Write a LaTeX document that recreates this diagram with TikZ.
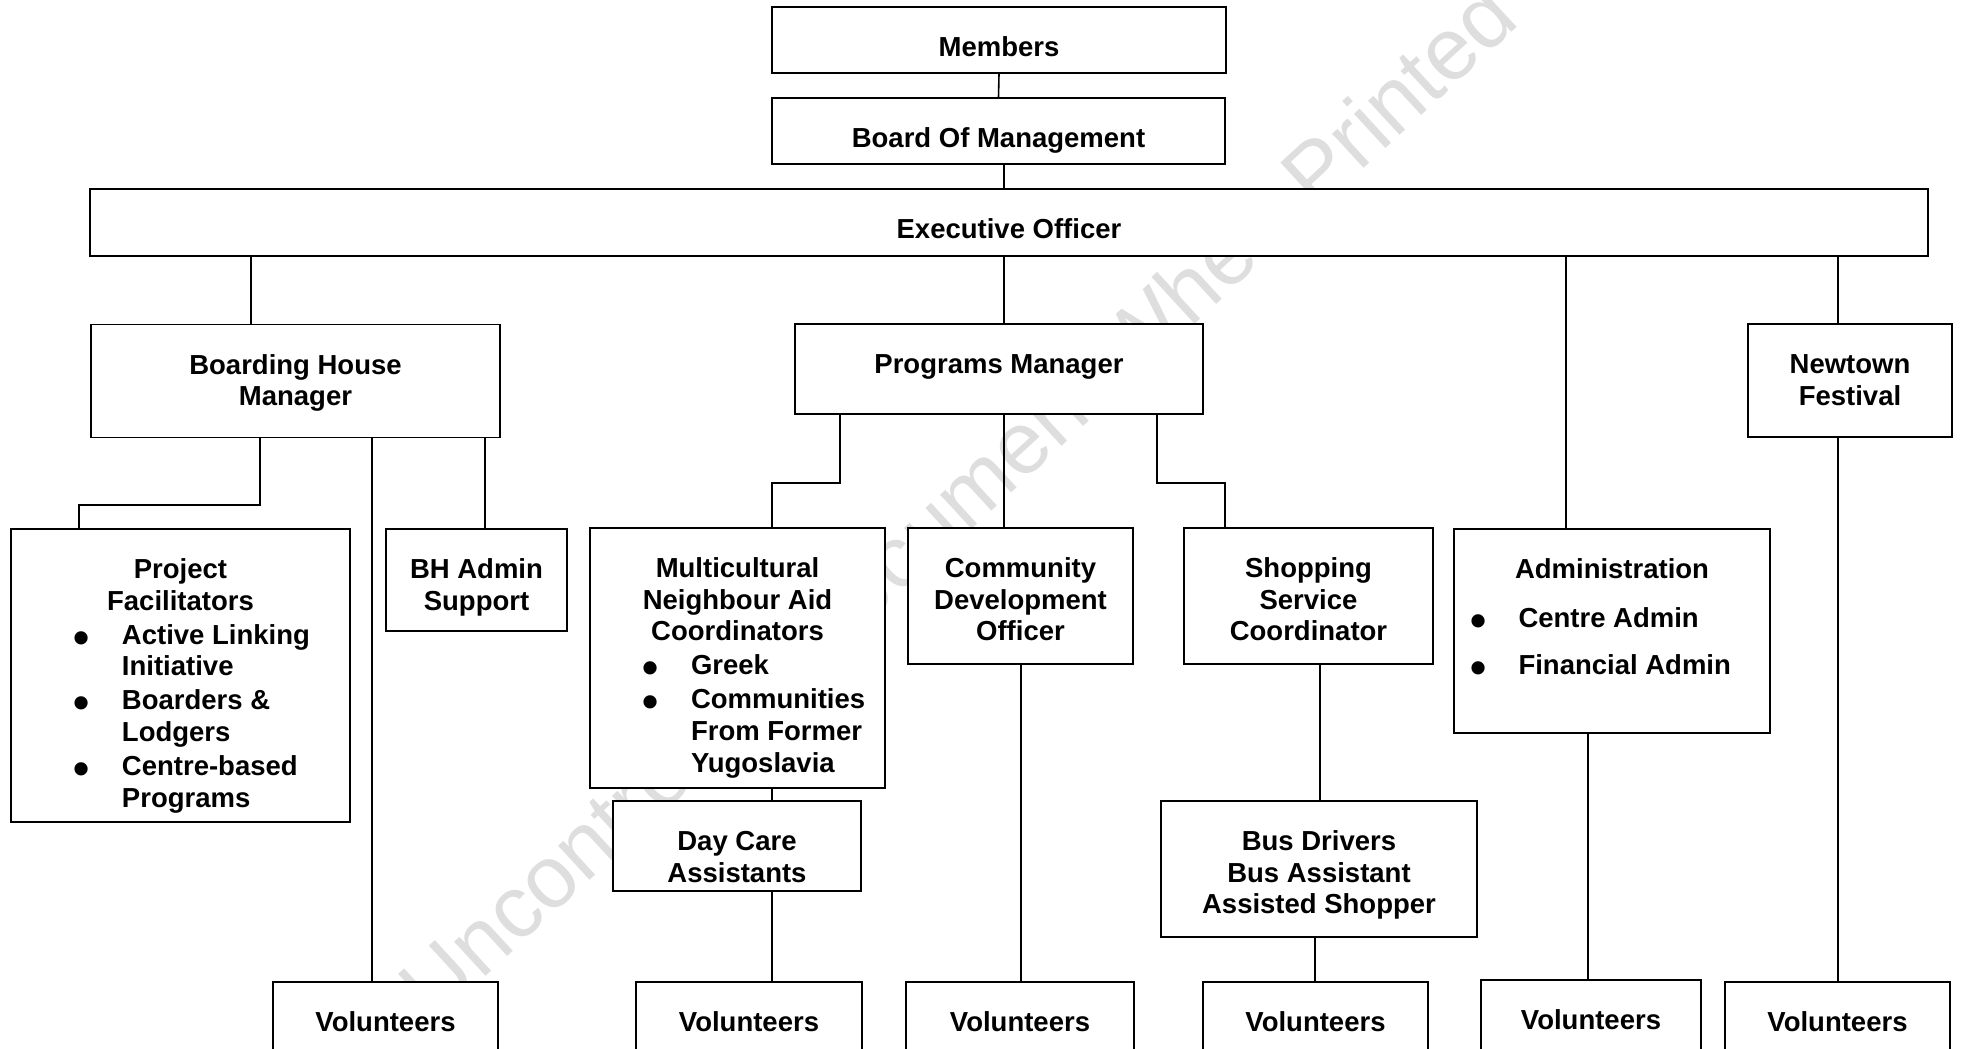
\documentclass[tikz,border=0pt]{standalone}
\usepackage{fontspec}
\setmainfont{Liberation Sans}

% box text: width, height, content (first baseline fixed from the top)
\newcommand{\boxtxt}[3]{\parbox[c][#2pt][t]{#1pt}{\centering\rule{0pt}{49.5pt}#3}}
% bullet line: [gap]{indent}{text}
\newcommand{\bitem}[3][2.5pt]{\par\vspace{#1}\raggedright\leftskip=#2pt\relax
  \leavevmode\llap{\makebox[80pt]{\raisebox{-9pt}{\fontsize{46}{0}\selectfont\textbullet}}}#3\par}

\begin{document}
\begin{tikzpicture}[x=1pt,y=-1pt,
  unit/.style={draw,fill=white,line width=1.8pt,inner sep=0pt,
    font=\bfseries\fontsize{27.5}{31.6}\selectfont},
  link/.style={line width=1.6pt}]
\path[use as bounding box,clip] (0,0) rectangle (1963,1049);

\node[rotate=42.6,text=black!13,font=\fontsize{88}{100}\selectfont] (mark) at (957,500) {Uncontrolled Document When Printed};

% top of the chart
\node[unit] (mem) at (999,40) {\boxtxt{454}{66}{Members}};
\node[unit] (bom) at (998.5,131) {\boxtxt{453}{66}{Board Of Management}};
\node[unit] (eo) at (1009,222.5) {\boxtxt{1838}{67}{Executive Officer}};

% managers
\node[unit] (bhm) at (295.5,381) {\boxtxt{409}{113}{Boarding House\\Manager}};
\node[unit] (pm) at (999,369) {\boxtxt{408}{90}{Programs Manager}};
\node[unit] (nf) at (1850,380.5) {\boxtxt{204}{113}{Newtown\\Festival}};

% staff
\node[unit] (pf) at (180.5,675.5) {\boxtxt{339}{293}{Project\\Facilitators
  \bitem{111}{Active Linking\\Initiative}
  \bitem{111}{Boarders \&\\Lodgers}
  \bitem{111}{Centre-based\\Programs}}};
\node[unit] (bha) at (476.5,580) {\boxtxt{181}{102}{BH Admin\\Support}};
\node[unit] (mna) at (737.5,658) {\boxtxt{295}{260}{Multicultural\\Neighbour Aid\\Coordinators
  \bitem{101}{Greek}
  \bitem{101}{Communities\\From Former\\Yugoslavia}}};
\node[unit] (cdo) at (1020.5,596) {\boxtxt{225}{136}{Community\\Development\\Officer}};
\node[unit] (ssc) at (1308.5,596) {\boxtxt{249}{136}{Shopping\\Service\\Coordinator}};
\node[unit] (adm) at (1612,631) {\boxtxt{316}{204}{Administration
  \bitem[17pt]{64.5}{Centre Admin}
  \bitem[16pt]{64.5}{Financial Admin}}};
\node[unit] (dca) at (737,846) {\boxtxt{248}{90}{Day Care\\Assistants}};
\node[unit] (bus) at (1319,869) {\boxtxt{316}{136}{Bus Drivers\\Bus Assistant\\Assisted Shopper}};

% volunteers along the bottom
\node[unit] (vbh) at (385.5,1042) {\boxtxt{225}{120}{Volunteers}};
\node[unit] (vdc) at (749,1042) {\boxtxt{226}{120}{Volunteers}};
\node[unit] (vcd) at (1020,1042) {\boxtxt{228}{120}{Volunteers}};
\node[unit] (vss) at (1315.5,1042) {\boxtxt{225}{120}{Volunteers}};
\node[unit] (vad) at (1591,1040) {\boxtxt{220}{120}{Volunteers}};
\node[unit] (vnf) at (1837.5,1042) {\boxtxt{225}{120}{Volunteers}};

\draw[link] (mem.south) -- (bom.north);
\draw[link] (bom.south -| 1004,0) -- (eo.north -| 1004,0);

\draw[link] (eo.south -| 251,0) -- (bhm.north -| 251,0);
\draw[link] (eo.south -| 1004,0) -- (pm.north -| 1004,0);
\draw[link] (eo.south -| 1566,0) -- (adm.north -| 1566,0);
\draw[link] (eo.south -| 1838,0) -- (nf.north -| 1838,0);

\draw[link] (bhm.south -| 260,0) |- (79,505) -- (pf.north -| 79,0);
\draw[link] (bhm.south -| 372,0) -- (vbh.north -| 372,0);
\draw[link] (bhm.south -| 485,0) -- (bha.north -| 485,0);

\draw[link] (pm.south -| 840,0) |- (772,483) -- (mna.north -| 772,0);
\draw[link] (pm.south -| 1004,0) -- (cdo.north -| 1004,0);
\draw[link] (pm.south -| 1157,0) |- (1225,483) -- (ssc.north -| 1225,0);

\draw[link] (mna.south -| 772,0) -- (dca.north -| 772,0);
\draw[link] (dca.south -| 772,0) -- (vdc.north -| 772,0);
\draw[link] (cdo.south -| 1021,0) -- (vcd.north -| 1021,0);
\draw[link] (ssc.south -| 1320,0) -- (bus.north -| 1320,0);
\draw[link] (bus.south -| 1315,0) -- (vss.north -| 1315,0);
\draw[link] (adm.south -| 1588,0) -- (vad.north -| 1588,0);
\draw[link] (nf.south -| 1838,0) -- (vnf.north -| 1838,0);
\end{tikzpicture}
\end{document}
